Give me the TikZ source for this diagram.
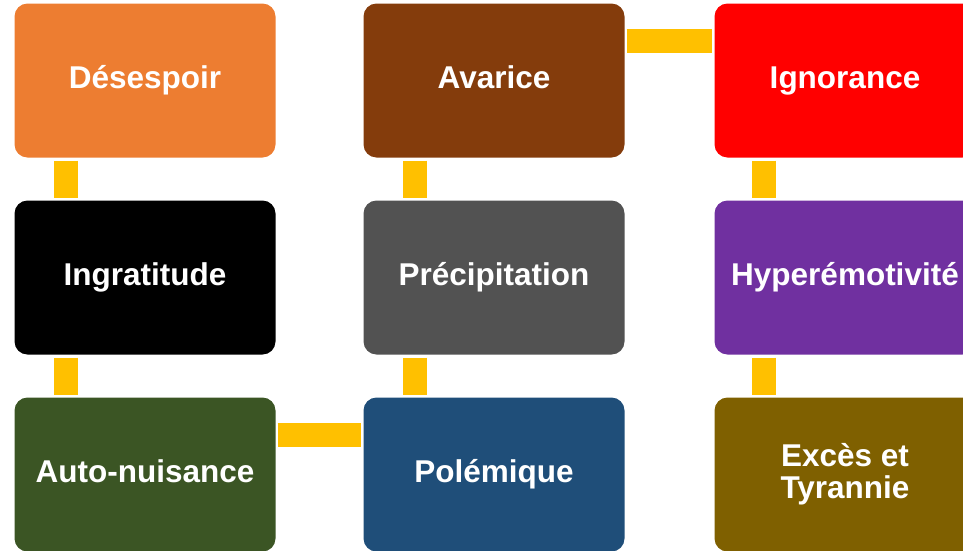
\documentclass[tikz,border=0pt]{standalone}
\usepackage{fontspec}
\setmainfont{Liberation Sans}
\definecolor{cOrange}{HTML}{ED7D31}
\definecolor{cBrown}{HTML}{843C0C}
\definecolor{cRed}{HTML}{FF0000}
\definecolor{cBlack}{HTML}{000000}
\definecolor{cGrey}{HTML}{525252}
\definecolor{cPurple}{HTML}{7030A0}
\definecolor{cGreen}{HTML}{3B5524}
\definecolor{cBlue}{HTML}{1F4E79}
\definecolor{cOlive}{HTML}{7F6000}
\definecolor{cGold}{HTML}{FFC000}
\begin{document}
\begin{tikzpicture}[x=1pt,y=-1pt,
  box/.style={rectangle, rounded corners=13pt, minimum width=261pt, minimum height=154pt,
    inner sep=0pt, text=white, align=center, text height=23pt, text depth=7pt,
    font=\fontsize{31.5}{32}\selectfont\bfseries},
  conn/.style={draw=cGold, line width=24pt}]
\useasboundingbox (0,0) rectangle (963,550);
% row 1
\node[box, fill=cOrange] (des) at (145,80.5) {Désespoir};
\node[box, fill=cBrown] (ava) at (494,80.5) {Avarice};
\node[box, fill=cRed] (ign) at (845,80.5) {Ignorance};
% row 2
\node[box, fill=cBlack] (ing) at (145,277.5) {Ingratitude};
\node[box, fill=cGrey] (pre) at (494,277.5) {Précipitation};
\node[box, fill=cPurple] (hyp) at (845,277.5) {Hyperémotivité};
% row 3
\node[box, fill=cGreen] (aut) at (145,474.5) {Auto-nuisance};
\node[box, fill=cBlue] (pol) at (494,474.5) {Polémique};
\node[box, fill=cOlive, text height=55pt] (exc) at (845,474.5) {Excès et\\Tyrannie};
% vertical connectors
\draw[conn] ([xshift=52pt,yshift=-3pt]des.south west) -- ([xshift=52pt,yshift=2pt]ing.north west);
\draw[conn] ([xshift=52pt,yshift=-3pt]ing.south west) -- ([xshift=52pt,yshift=2pt]aut.north west);
\draw[conn] ([xshift=52pt,yshift=-3pt]ava.south west) -- ([xshift=52pt,yshift=2pt]pre.north west);
\draw[conn] ([xshift=52pt,yshift=-3pt]pre.south west) -- ([xshift=52pt,yshift=2pt]pol.north west);
\draw[conn] ([xshift=50pt,yshift=-3pt]ign.south west) -- ([xshift=50pt,yshift=2pt]hyp.north west);
\draw[conn] ([xshift=50pt,yshift=-3pt]hyp.south west) -- ([xshift=50pt,yshift=2pt]exc.north west);
% horizontal connectors
\draw[conn] ([xshift=2pt,yshift=-38pt]ava.north east) -- ([xshift=-2pt,yshift=-38pt]ign.north west);
\draw[conn] ([xshift=2pt,yshift=-38pt]aut.north east) -- ([xshift=-2pt,yshift=-38pt]pol.north west);
\end{tikzpicture}
\end{document}
